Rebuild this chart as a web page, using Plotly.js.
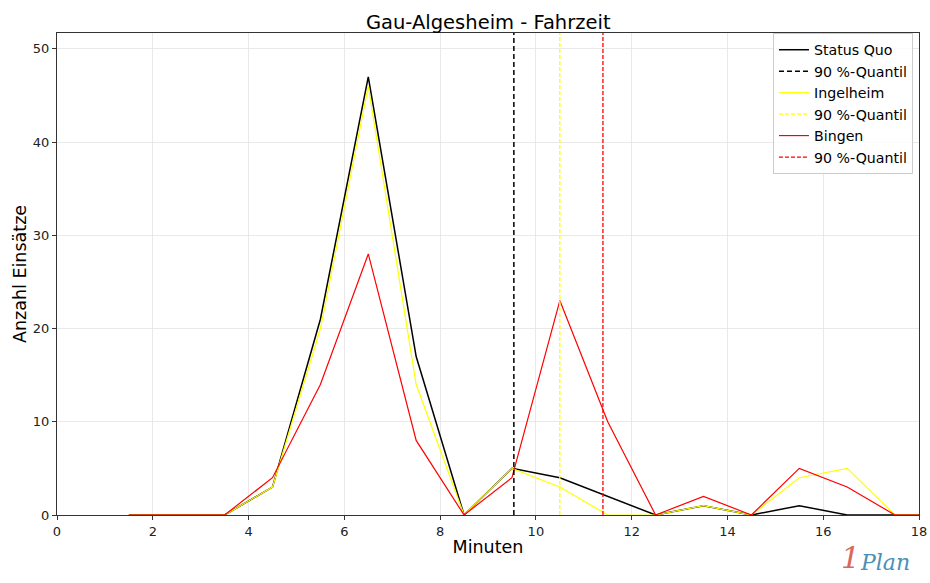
<!DOCTYPE html>
<html>
<head>
<meta charset="utf-8">
<script src="https://cdn.plot.ly/plotly-3.0.1.min.js"></script>
<style>html,body{margin:0;padding:0;background:#fff;}#chart{width:930px;height:583px;}</style>
</head>
<body>
<div id="chart"></div>
<script>
const minutes = [1.5, 2.5, 3.5, 4.5, 5.5, 6.5, 7.5, 8.5, 9.5, 10.5, 11.5, 12.5, 13.5, 14.5, 15.5, 16.5, 17.5, 18.5];
const statusQuo = [0, 0, 0, 3, 21, 47, 17, 0, 5, 4, 2, 0, 1, 0, 1, 0, 0, 0];
const ingelheim = [0, 0, 0, 3, 20, 46, 14, 0, 5, 3, 0, 0, 1, 0, 4, 5, 0, 0];
const bingen = [0, 0, 0, 4, 14, 28, 8, 0, 4, 23, 10, 0, 2, 0, 5, 3, 0, 0];
const quantileStatusQuo = 9.54;
const quantileIngelheim = 10.5;
const quantileBingen = 11.4;
const seriesNames = ['Status Quo', 'Ingelheim', 'Bingen'];
const quantileLabel = '90 %-Quantil';
const xTicks = [0, 2, 4, 6, 8, 10, 12, 14, 16, 18];
const yTicks = [0, 10, 20, 30, 40, 50];

const colors = ['#000000', '#ffff00', '#ff0000'];
const series = [statusQuo, ingelheim, bingen];
const quantiles = [quantileStatusQuo, quantileIngelheim, quantileBingen];

const traces = [];
for (let i = 0; i < 3; i++) {
  traces.push({
    x: minutes, y: series[i], type: 'scatter', mode: 'lines', name: seriesNames[i],
    line: {color: colors[i], width: i === 0 ? 1.5 : 1.2}
  });
  traces.push({
    x: [quantiles[i], quantiles[i]], y: [0, 1], yaxis: 'y2', type: 'scatter', mode: 'lines',
    name: quantileLabel, line: {color: colors[i], width: i === 0 ? 1.5 : 1.3, dash: i === 0 ? '5px,3px' : '4px,2px'}
  });
}

const layout = {
  width: 930, height: 583,
  margin: {l: 57, r: 11, t: 33, b: 68},
  paper_bgcolor: '#ffffff', plot_bgcolor: '#ffffff',
  font: {family: 'DejaVu Sans, sans-serif', color: '#000'},
  title: {text: 'Gau-Algesheim - Fahrzeit', font: {size: 19.5, color: '#000'}, x: 0.525, xanchor: 'center', y: 0.962, yanchor: 'middle'},
  xaxis: {
    range: [0, 18], tickvals: xTicks, ticktext: xTicks.map(String),
    ticks: 'outside', ticklen: 4, tickcolor: '#333', tickfont: {size: 13, color: '#222'},
    showgrid: true, gridcolor: '#e3e3e3', gridwidth: 0.8, zeroline: false,
    showline: true, linecolor: '#333', linewidth: 1, mirror: true,
    title: {text: 'Minuten', font: {size: 17.5}, standoff: 3}
  },
  yaxis: {
    range: [0, 51.7], tickvals: yTicks, ticktext: yTicks.map(String),
    ticks: 'outside', ticklen: 4, tickcolor: '#333', tickfont: {size: 13, color: '#222'},
    showgrid: true, gridcolor: '#e3e3e3', gridwidth: 0.8, zeroline: false,
    showline: true, linecolor: '#333', linewidth: 1, mirror: true,
    title: {text: 'Anzahl Einsätze', font: {size: 17.5}, standoff: 1}
  },
  yaxis2: {range: [0, 1], overlaying: 'y', visible: false, fixedrange: true},
  showlegend: true,
  legend: {
    x: 0.993, y: 1.0, xanchor: 'right', yanchor: 'top',
    bgcolor: 'rgba(255,255,255,0.8)', bordercolor: '#cccccc', borderwidth: 1,
    font: {size: 14.2}, tracegroupgap: 0, itemwidth: 30
  },
  annotations: [
    {text: '<i>1</i>', xref: 'paper', yref: 'paper', x: 0.934, y: -0.089, xanchor: 'right', yanchor: 'middle',
     showarrow: false, font: {family: 'DejaVu Serif, serif', size: 30, color: '#d9675a'}},
    {text: '<i>Plan</i>', xref: 'paper', yref: 'paper', x: 0.929, y: -0.098, xanchor: 'left', yanchor: 'middle',
     showarrow: false, font: {family: 'DejaVu Serif, serif', size: 22, color: '#4a90b8'}}
  ]
};

Plotly.newPlot('chart', traces, layout, {displayModeBar: false, staticPlot: true});
</script>
</body>
</html>
